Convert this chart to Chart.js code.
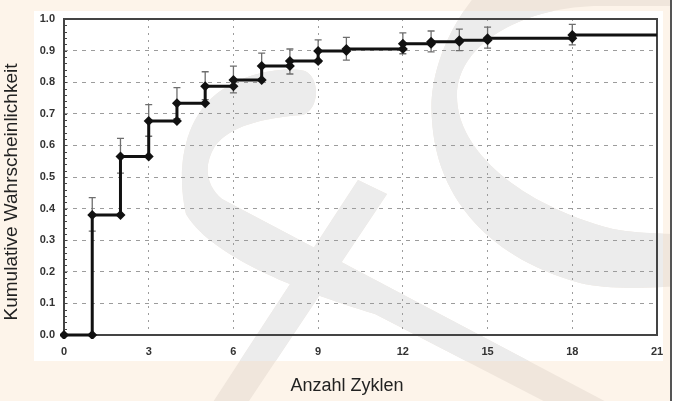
<!DOCTYPE html>
<html>
<head>
<meta charset="utf-8">
<script src="https://cdn.jsdelivr.net/npm/chart.js@4"></script>
<style>
  html, body { margin: 0; padding: 0; background: #fdf4ea; }
</style>
</head>
<body>
<canvas id="kmChart" width="674" height="401"></canvas>
<script>
// Kaplan-Meier: Anzahl Zyklen vs. kumulative Wahrscheinlichkeit
const cycles      = [1, 2, 3, 4, 5, 6, 7, 8, 9, 10, 12, 13, 14, 15, 18];
const probability = [0.38, 0.565, 0.677, 0.733, 0.787, 0.807, 0.851, 0.867, 0.899, 0.905, 0.922, 0.928, 0.933, 0.939, 0.949];
const upperCI     = [0.435, 0.622, 0.729, 0.783, 0.833, 0.851, 0.892, 0.905, 0.934, 0.942, 0.956, 0.962, 0.968, 0.974, 0.983];
const lowerCI     = [0.329, 0.512, 0.629, 0.685, 0.745, 0.766, 0.810, 0.826, 0.862, 0.870, 0.890, 0.896, 0.900, 0.908, 0.918];
const startValue  = 0;
const xMax        = 21;
const xTitle = "Anzahl Zyklen";
const yTitle = "Kumulative Wahrscheinlichkeit";

// corners of the step curve: (x, previous) and (x, new)
const stepPoints = [{x: 0, y: startValue}];
let prev = startValue;
for (let i = 0; i < cycles.length; i++) {
    stepPoints.push({x: cycles[i], y: prev});
    stepPoints.push({x: cycles[i], y: probability[i]});
    prev = probability[i];
}
stepPoints.push({x: xMax, y: prev});
const pointRadii = stepPoints.map((p, i) => i === stepPoints.length - 1 ? 0 : 5);

const titleFont = '18px "Liberation Sans", Arial, sans-serif';

const backdrop = {
    id: 'backdrop',
    beforeDraw(chart) {
        const ctx = chart.ctx;
        ctx.save();
        ctx.fillStyle = '#fdf4ea';
        ctx.fillRect(0, 0, chart.width, chart.height);
        ctx.fillStyle = '#ffffff';
        ctx.fillRect(34, 11, 629, 350);

        // faint logo in the background
        const cShape = () => {
            ctx.beginPath();
            ctx.moveTo(700, -10);
            ctx.lineTo(480, -10);
            ctx.bezierCurveTo(445, 30, 428, 80, 432, 120);
            ctx.bezierCurveTo(436, 190, 480, 255, 580, 283);
            ctx.bezierCurveTo(610, 290, 650, 288, 700, 285);
            ctx.closePath();
            ctx.moveTo(700, 6);
            ctx.lineTo(600, 6);
            ctx.bezierCurveTo(530, 6, 458, 40, 457, 95);
            ctx.bezierCurveTo(456, 150, 520, 205, 613, 229);
            ctx.bezierCurveTo(640, 234, 670, 234, 700, 234);
            ctx.closePath();
        };
        const ampShape = () => {
            ctx.beginPath();
            ctx.moveTo(186, 214);
            ctx.bezierCurveTo(176, 170, 184, 122, 214, 96);
            ctx.bezierCurveTo(240, 74, 280, 66, 305, 71);
            ctx.bezierCurveTo(320, 78, 320, 108, 303, 115);
            ctx.bezierCurveTo(262, 118, 230, 126, 215, 146);
            ctx.bezierCurveTo(203, 165, 206, 186, 222, 199);
            ctx.lineTo(650, 425);
            ctx.lineTo(590, 425);
            ctx.lineTo(375, 314);
            ctx.bezierCurveTo(295, 290, 210, 255, 186, 214);
            ctx.closePath();
            ctx.moveTo(358, 180);
            ctx.lineTo(387, 194);
            ctx.lineTo(233, 425);
            ctx.lineTo(198, 425);
            ctx.closePath();
        };
        [cShape, ampShape].forEach(shape => {
            const rule = shape === cShape ? 'evenodd' : 'nonzero';
            shape();
            ctx.fillStyle = '#f0e6dc';
            ctx.fill(rule);
            ctx.save();
            ctx.beginPath();
            ctx.rect(34, 11, 629, 350);
            ctx.clip();
            shape();
            ctx.fillStyle = '#ececec';
            ctx.fill(rule);
            ctx.restore();
        });

        ctx.fillStyle = '#555555';
        ctx.fillRect(670, 0, 2, chart.height);
        ctx.fillStyle = '#ffffff';
        ctx.fillRect(672, 0, 2, chart.height);
        ctx.restore();
    },
    beforeDatasetsDraw(chart) {
        const {ctx, chartArea: a, scales: {x, y}} = chart;
        ctx.save();
        // frame
        ctx.strokeStyle = '#444444';
        ctx.lineWidth = 2;
        ctx.strokeRect(a.left, a.top, a.right - a.left, a.bottom - a.top);
        ctx.lineWidth = 1;
        for (let v = 0; v <= 1.0001; v += 0.02) {
            const py = Math.round(y.getPixelForValue(v)) + 0.5;
            ctx.beginPath();
            ctx.moveTo(a.left, py);
            ctx.lineTo(a.left + 3, py);
            ctx.stroke();
        }
        // confidence bars
        ctx.strokeStyle = '#6e6e6e';
        ctx.lineWidth = 1.3;
        for (let i = 0; i < cycles.length; i++) {
            const px = x.getPixelForValue(cycles[i]);
            const pu = y.getPixelForValue(upperCI[i]);
            const pl = y.getPixelForValue(lowerCI[i]);
            ctx.beginPath();
            ctx.moveTo(px, pu);
            ctx.lineTo(px, pl);
            ctx.moveTo(px - 3.5, pu);
            ctx.lineTo(px + 3.5, pu);
            ctx.moveTo(px - 3.5, pl);
            ctx.lineTo(px + 3.5, pl);
            ctx.stroke();
        }
        ctx.restore();
    },
    afterDraw(chart) {
        const ctx = chart.ctx;
        ctx.save();
        ctx.font = titleFont;
        ctx.fillStyle = '#222222';
        ctx.textAlign = 'center';
        ctx.textBaseline = 'middle';
        ctx.fillText(xTitle, 347, 386);
        ctx.translate(12, 192);
        ctx.rotate(-Math.PI / 2);
        ctx.font = '19px "Liberation Sans", Arial, sans-serif';
        ctx.fillText(yTitle, 0, 0);
        ctx.restore();
    }
};

const tickFont = {family: '"Liberation Sans", Arial, sans-serif', size: 11, weight: 'bold'};

new Chart(document.getElementById('kmChart'), {
    type: 'line',
    data: {
        datasets: [{
            label: 'Kaplan-Meier',
            data: stepPoints,
            borderColor: '#111111',
            backgroundColor: '#111111',
            borderWidth: 3,
            pointStyle: 'rectRot',
            pointRadius: pointRadii,
            pointBackgroundColor: '#111111',
            pointBorderColor: '#111111',
            pointBorderWidth: 0,
            fill: false,
            tension: 0,
            clip: 4
        }]
    },
    options: {
        responsive: false,
        animation: false,
        layout: {padding: {top: 19, right: 17, left: 0, bottom: 0}},
        plugins: {
            legend: {display: false},
            tooltip: {enabled: false}
        },
        scales: {
            x: {
                type: 'linear',
                min: 0,
                max: xMax,
                afterFit: function (scale) { scale.height = 66; },
                ticks: {stepSize: 3, padding: 10, color: '#333333', font: tickFont, maxRotation: 0},
                grid: {
                    drawTicks: false,
                    color: c => (c.tick && (c.tick.value === 0 || c.tick.value === xMax)) ? 'rgba(0,0,0,0)' : '#9c9c9c',
                    lineWidth: 1
                },
                border: {display: false, dash: [2, 5]}
            },
            y: {
                min: 0,
                max: 1,
                afterFit: function (scale) { scale.width = 64; },
                ticks: {
                    stepSize: 0.1,
                    padding: 9,
                    color: '#333333',
                    font: tickFont,
                    callback: v => Number(v).toFixed(1)
                },
                grid: {
                    drawTicks: false,
                    color: c => (c.tick && (Math.abs(c.tick.value) < 1e-6 || Math.abs(c.tick.value - 1) < 1e-6)) ? 'rgba(0,0,0,0)' : '#9c9c9c',
                    lineWidth: 1
                },
                border: {display: false, dash: [4, 5]}
            }
        }
    },
    plugins: [backdrop]
});
</script>
</body>
</html>
